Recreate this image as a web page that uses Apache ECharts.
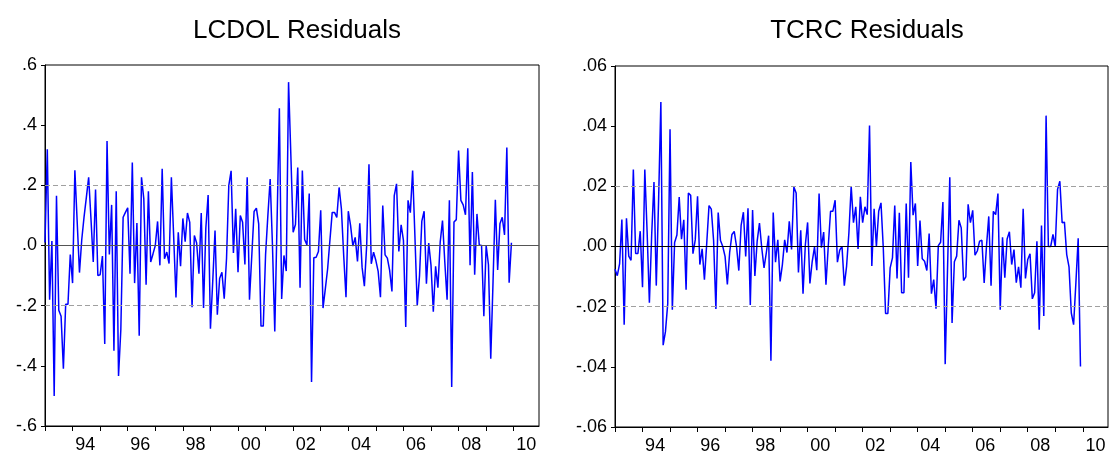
<!DOCTYPE html>
<html><head><meta charset="utf-8">
<script src="https://cdn.jsdelivr.net/npm/echarts@6/dist/echarts.min.js"></script>
<style>html,body{margin:0;padding:0;background:#fff}#c{width:1110px;height:457px}</style>
</head><body><div id="c"></div><script>
// Monthly observations from 1993M01; axis spans 1993M01..2010M12
const startYear = 1993;
const axisMonths = 216;
const yearLabels = ['94','96','98','00','02','04','06','08','10'];
const lcdolTicks = [-0.6,-0.4,-0.2,0,0.2,0.4,0.6];
const tcrcTicks = [-0.06,-0.04,-0.02,0,0.02,0.04,0.06];
const lcdolBands = [0.195, -0.195];
const tcrcBands = [0.0157, -0.0157];

const lcdol = [
0.01,0.32,-0.18,0.015,-0.50,0.165,-0.215,-0.235,-0.41,-0.195,-0.195,-0.03,
-0.125,0.25,0.08,-0.09,0.02,0.095,0.16,0.227,0.09,-0.055,0.186,-0.10,
-0.097,-0.035,-0.327,0.347,-0.03,0.135,-0.35,0.18,-0.434,-0.28,0.094,0.11,
0.125,-0.094,0.276,-0.125,0.075,-0.30,0.227,0.155,-0.13,0.18,-0.055,-0.028,
0.0,0.08,-0.066,0.255,-0.044,-0.022,-0.06,0.227,0.03,-0.173,0.044,-0.069,
0.09,0.013,0.108,0.077,-0.205,0.033,0.008,-0.094,0.108,-0.208,0.058,0.168,
-0.277,-0.12,0.05,-0.23,-0.11,-0.089,-0.177,-0.044,0.2,0.248,-0.025,0.122,
-0.089,0.1,0.077,-0.063,0.227,-0.18,-0.033,0.113,0.124,0.072,-0.268,-0.268,
-0.03,0.1,0.221,0.0,-0.286,0.08,0.456,-0.178,-0.033,-0.085,0.543,0.3,
0.044,0.07,0.259,-0.14,0.249,0.02,0.002,0.173,-0.454,-0.041,-0.039,-0.02,
0.117,-0.208,-0.144,-0.078,0.017,0.11,0.11,0.093,0.193,0.122,-0.033,-0.172,
0.114,0.066,-0.002,0.027,-0.053,0.074,-0.072,-0.135,0.0,0.27,-0.061,-0.022,
-0.05,-0.086,-0.172,0.133,-0.031,-0.042,-0.083,-0.153,0.166,0.205,-0.02,0.069,
0.017,-0.271,0.15,0.109,0.249,0.03,-0.2,-0.1,0.081,0.114,-0.127,0.008,
-0.066,-0.22,-0.069,-0.14,0.011,0.083,-0.055,-0.18,0.15,-0.47,0.078,0.086,
0.316,0.15,0.135,0.102,0.323,-0.066,0.244,-0.097,0.105,0.002,0.0,-0.235,
0.0,-0.064,-0.376,-0.12,0.152,-0.081,0.072,0.094,0.035,0.326,-0.124,0.009
];

const tcrc = [
-0.0076,-0.0097,-0.0058,0.009,-0.026,0.0094,-0.0032,-0.0046,0.0256,-0.0023,-0.0023,0.0051,
-0.0135,0.0256,0.005,-0.0187,0.004,0.0214,-0.013,0.015,0.048,-0.0328,-0.0283,-0.019,
0.039,-0.021,0.0013,0.0038,0.0164,0.0024,0.0089,-0.0144,0.0178,0.017,-0.0024,0.0022,
0.0167,-0.006,-0.0008,-0.011,0.001,0.0136,0.0124,0.002,-0.0208,0.0113,0.002,0.0,
-0.0033,-0.0126,-0.002,0.004,0.005,0.0,-0.008,0.007,0.0114,-0.0033,0.0127,-0.0194,
0.0121,-0.0098,0.0018,0.0078,-0.0005,-0.0071,-0.002,0.0036,-0.038,0.0113,-0.0052,0.0022,
-0.0116,-0.006,0.0022,-0.002,0.0084,-0.001,0.0198,0.0178,-0.0086,0.0054,-0.0157,0.0005,
0.008,-0.0123,-0.005,-0.0002,-0.0079,0.0176,-0.0004,0.0048,-0.0127,0.0,0.0117,0.0117,
0.0154,-0.0052,-0.0012,0.0,-0.013,-0.0065,0.0045,0.02,0.0079,0.0132,-0.0008,0.0165,
0.0079,0.0132,0.0106,0.0402,-0.0065,0.0125,0.0,0.0117,0.0145,-0.0004,-0.0223,-0.0223,
-0.0071,-0.0038,0.0136,-0.0106,0.0112,-0.0154,-0.0154,0.0143,-0.0104,0.0281,0.0104,0.0143,
-0.0065,0.0086,-0.0041,-0.0049,-0.008,0.0043,-0.0157,-0.011,-0.0207,0.0003,0.0014,0.0148,
-0.0391,-0.008,0.023,-0.0254,-0.0051,-0.0032,0.0087,0.0062,-0.0113,-0.0101,0.014,0.0079,
0.012,-0.0029,-0.0015,0.0018,0.0021,-0.0121,0.0,0.01,-0.013,0.0117,0.0106,0.0176,
-0.021,0.0031,-0.0104,0.0025,0.0049,-0.006,-0.001,-0.012,-0.0068,-0.0137,0.0125,-0.0106,
-0.0043,-0.0024,-0.0174,-0.0154,0.0017,-0.0277,0.007,-0.0231,0.0435,0.0,0.0,0.004,
0.0,0.019,0.0217,0.0079,0.0081,-0.0027,-0.0068,-0.0221,-0.026,-0.012,0.0027,-0.0399
];

const FONT = 'Liberation Sans, Arial, sans-serif';
const tickIdx = [];
for (let i = 0; i <= axisMonths - 12; i += 12) tickIdx.push(i);
const labelIdx = yearLabels.map(s => {
  const y = (+s < 50 ? 2000 : 1900) + (+s);
  return (y - startYear) * 12 + 5.5;
});

function xAxisFor(gi) {
  return {
    gridIndex: gi, type: 'value', min: 0, max: axisMonths - 1,
    axisLine: {show: true, onZero: false, lineStyle: {color: '#000', width: 1}},
    axisTick: {show: true, customValues: tickIdx, length: 5, lineStyle: {color: '#000'}},
    axisLabel: {show: true, customValues: labelIdx, margin: 10, color: '#000',
      fontSize: 18, fontFamily: FONT,
      formatter: v => String((startYear + Math.floor(v / 12)) % 100).padStart(2, '0')},
    splitLine: {show: false}
  };
}
function yAxisFor(gi, ticks, dec) {
  const step = ticks[1] - ticks[0];
  return {
    gridIndex: gi, type: 'value', min: ticks[0], max: ticks[ticks.length - 1], interval: step,
    axisLine: {show: true, lineStyle: {color: '#000', width: 1}},
    axisTick: {show: true, length: 4, lineStyle: {color: '#000'}},
    axisLabel: {margin: 8, color: '#000', fontSize: 18, fontFamily: FONT,
      formatter: v => {
        const r = Math.abs(v) < 1e-9 ? 0 : v;
        return r.toFixed(dec).replace('0.', '.');
      }},
    splitLine: {show: false}
  };
}
function refSeries(gi, bands, zeroColor) {
  return {
    type: 'line', xAxisIndex: gi, yAxisIndex: gi, data: [], z: 1,
    markLine: {silent: true, symbol: ['none', 'none'], label: {show: false}, animation: false,
      data: [
        {yAxis: 0, lineStyle: {color: zeroColor, type: 'solid', width: 1}},
        {yAxis: bands[0], lineStyle: {color: '#a0a0a0', type: [5, 3], width: 1}},
        {yAxis: bands[1], lineStyle: {color: '#a0a0a0', type: [5, 3], width: 1}}
      ]}
  };
}
function mainSeries(gi, vals) {
  return {
    type: 'line', xAxisIndex: gi, yAxisIndex: gi, z: 3, showSymbol: false,
    data: vals.map((v, i) => [i, v]),
    lineStyle: {color: '#0000ff', width: 1.5}, animation: false
  };
}

const chart = echarts.init(document.getElementById('c'), null, {renderer: 'canvas'});
chart.setOption({
  backgroundColor: '#fff',
  animation: false,
  title: [
    {text: 'LCDOL Residuals', left: 292, top: 13, textAlign: 'center',
     textStyle: {fontSize: 26, fontWeight: 'normal', color: '#000', fontFamily: FONT}},
    {text: 'TCRC Residuals', left: 862, top: 13, textAlign: 'center',
     textStyle: {fontSize: 26, fontWeight: 'normal', color: '#000', fontFamily: FONT}}
  ],
  grid: [
    {left: 45, top: 65, width: 494, height: 361, show: true, borderColor: '#000', borderWidth: 1, backgroundColor: '#fff'},
    {left: 615, top: 66, width: 493, height: 361, show: true, borderColor: '#000', borderWidth: 1, backgroundColor: '#fff'}
  ],
  xAxis: [xAxisFor(0), xAxisFor(1)],
  yAxis: [yAxisFor(0, lcdolTicks, 1), yAxisFor(1, tcrcTicks, 2)],
  series: [
    refSeries(0, lcdolBands, '#555'),
    mainSeries(0, lcdol),
    refSeries(1, tcrcBands, '#000'),
    mainSeries(1, tcrc)
  ]
});
</script></body></html>
